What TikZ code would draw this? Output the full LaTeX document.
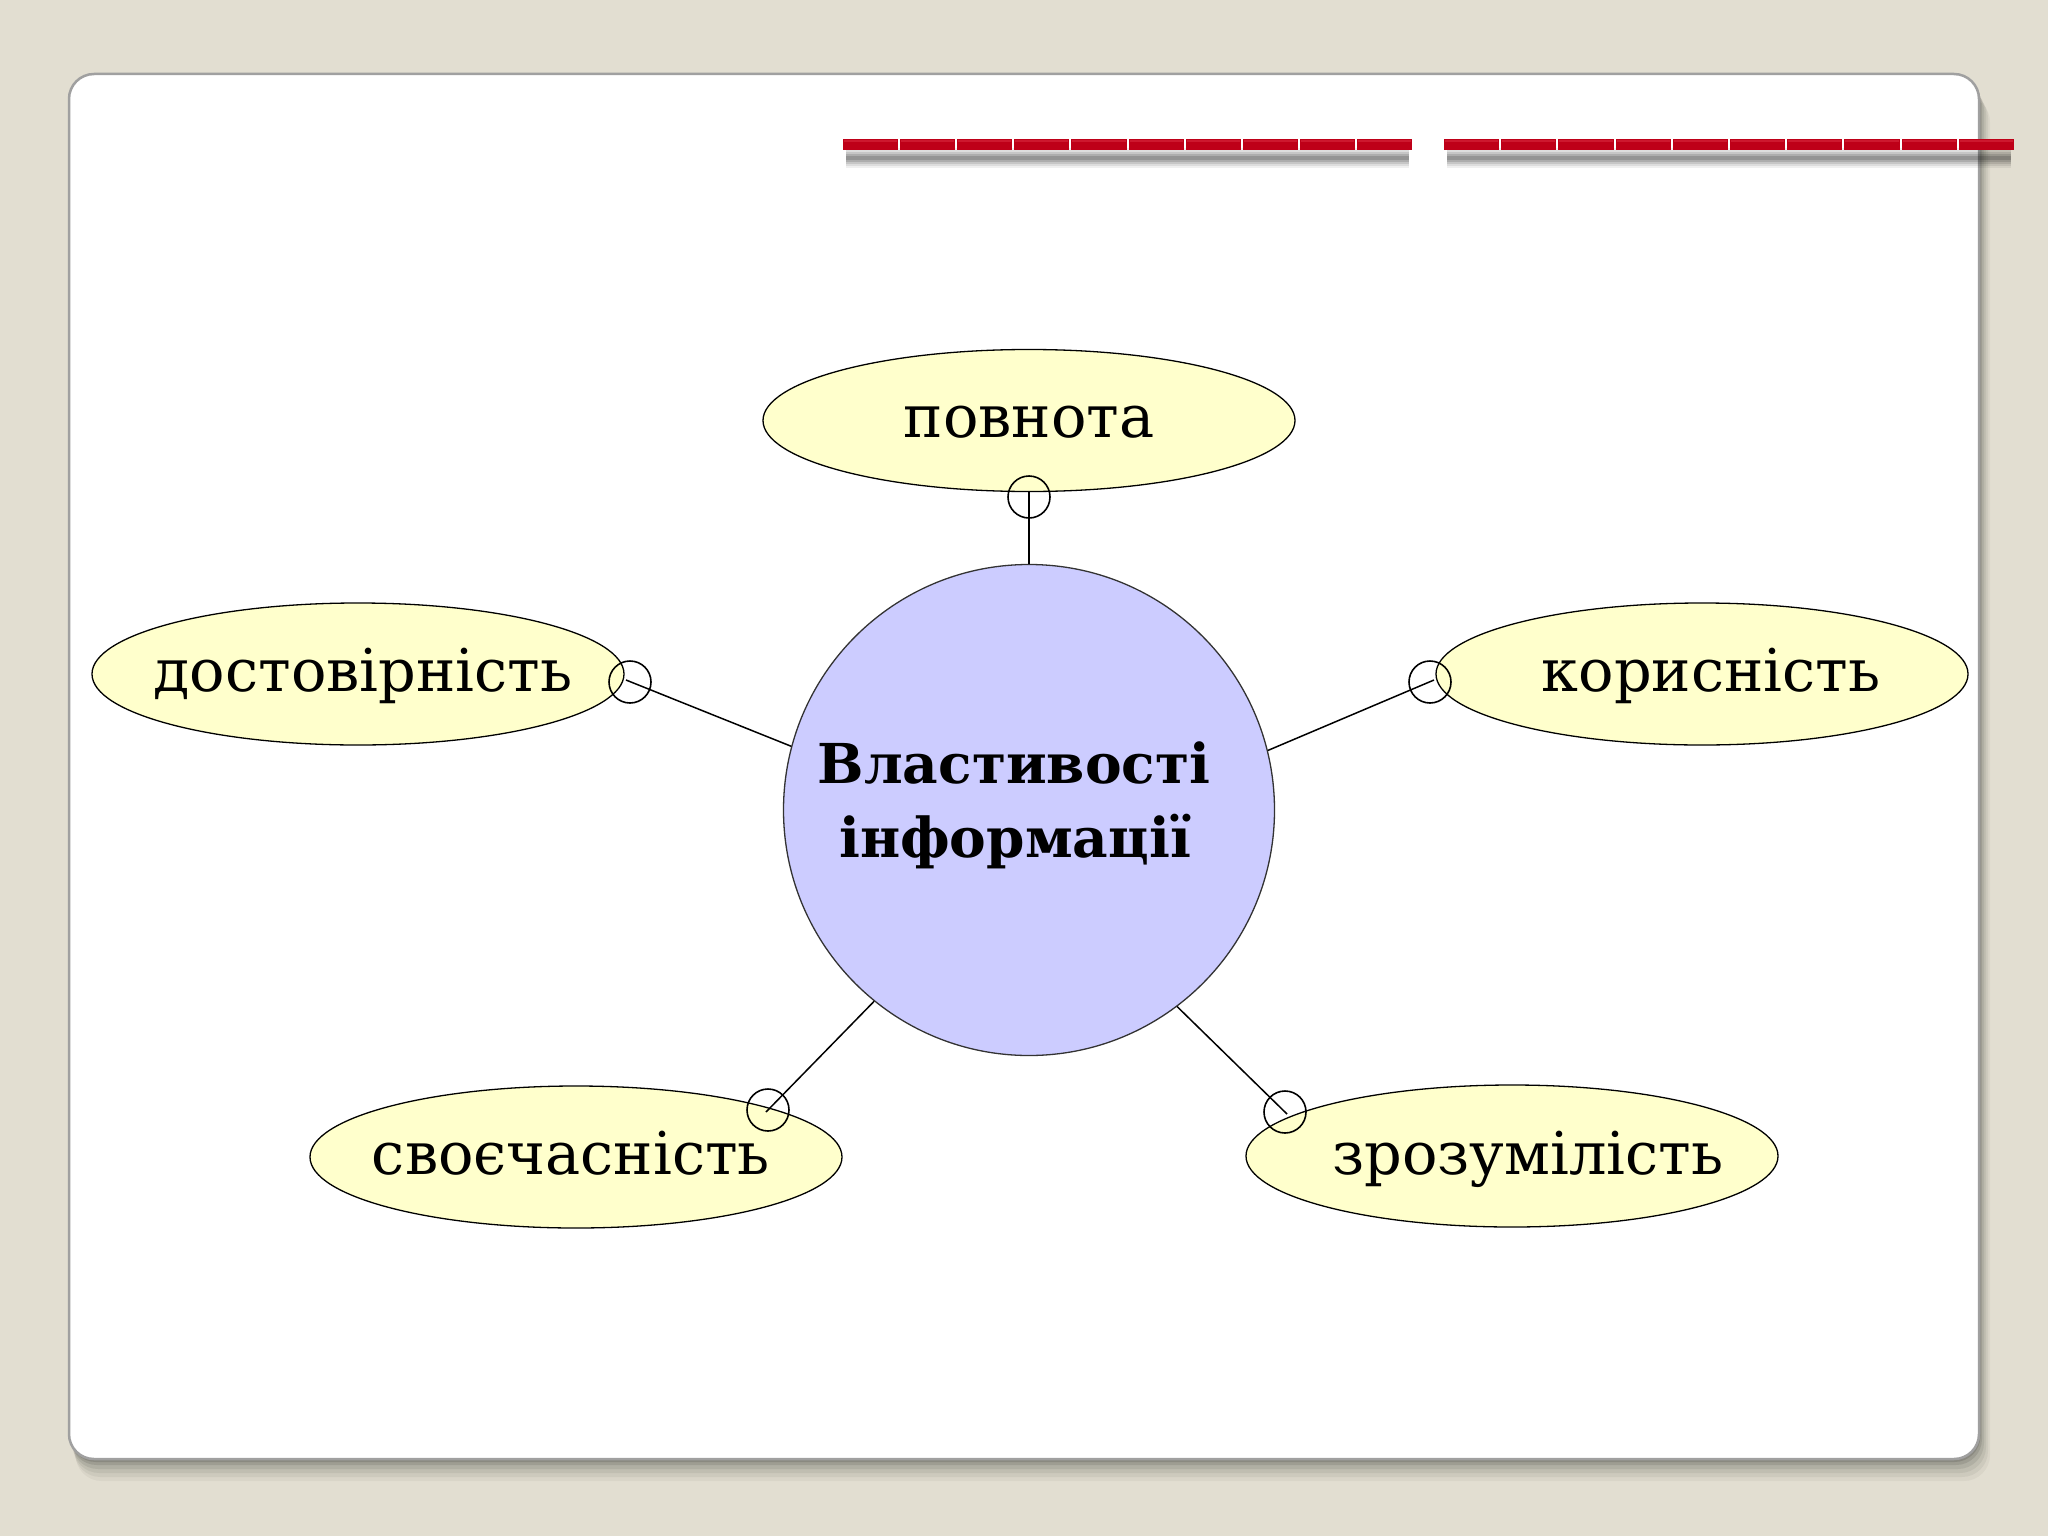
\documentclass[tikz,border=0pt]{standalone}
\usepackage{fontspec}
\setmainfont{DejaVu Serif}
\usetikzlibrary{shapes.geometric}
\definecolor{bgcol}{HTML}{E2DED1}
\definecolor{panelline}{HTML}{A0A0A0}
\definecolor{hubcol}{HTML}{CCCCFF}
\definecolor{leafcol}{HTML}{FFFFCC}
\definecolor{redbar}{HTML}{BE0018}
\definecolor{redhi}{HTML}{D8283E}
\begin{document}
\begin{tikzpicture}[x=1pt,y=-1pt,
  leafbox/.style={ellipse, draw=black, line width=1.3pt, fill=leafcol,
    minimum width=532pt, minimum height=142pt, inner sep=0pt},
  hubbox/.style={circle, draw=black!80, line width=1.3pt, fill=hubcol,
    minimum size=491pt, inner sep=0pt},
  lbl/.style={font=\fontsize{59}{70}\selectfont, inner sep=0pt, anchor=base},
  ttl/.style={font=\bfseries\fontsize{55}{74}\selectfont, inner sep=0pt, anchor=base},
  link/.style={draw=black, line width=1.5pt},
  knob/.style={circle, draw=black, line width=1.6pt, minimum size=42pt, inner sep=0pt},
]
\useasboundingbox (0,0) rectangle (2048,1536);
\fill[bgcol] (0,0) rectangle (2048,1536);
% panel shadow
\foreach \o/\a in {22/0.04,18/0.05,14/0.06,10/0.08,6/0.10,3/0.12}{
  \fill[black, opacity=\a, rounded corners=26pt] (69+\o*0.3,74+\o) rectangle (1979+\o*0.5,1459+\o);
}
% panel
\filldraw[fill=white, draw=panelline, line width=2.5pt, rounded corners=25pt] (69,74) rectangle (1979,1459);
% red bar shadows
\foreach \xa/\xb in {842/1413,1443/2015}{
  \foreach \w/\a in {20/0.06,16/0.08,12/0.10,8/0.12,4/0.14}{
    \draw[black, opacity=\a, line width=\w pt] (\xa+4,158) -- (\xb-4,158);
  }
}
% red bars
\foreach \xa/\sg in {842/57.1,1443/57.2}{
  \foreach \i in {0,...,9}{
    \fill[redbar] (\xa+\i*\sg+1,139.5) rectangle (\xa+\i*\sg+\sg-1,150);
    \fill[redhi, opacity=0.6] (\xa+\i*\sg+2,140.5) rectangle (\xa+\i*\sg+\sg-2,142.5);
  }
}
% ellipses
\node[leafbox] (e1) at (1029,420.5) {};
\node[leafbox] (e2) at (358,674) {};
\node[leafbox] (e3) at (1702,674) {};
\node[leafbox] (e4) at (576,1157) {};
\node[leafbox] (e5) at (1512,1156) {};
\node[lbl] (t1) at (1029,437) {повнота};
\node[lbl] (t2) at (363,691) {достовірність};
\node[lbl] (t3) at (1711,691) {корисність};
\node[lbl] (t4) at (571,1174) {своєчасність};
\node[lbl] (t5) at (1528,1174) {зрозумілість};
% hub
\node[hubbox] (c) at (1029,810) {};
\node[ttl] (h1) at (1014,783) {Властивості};
\node[ttl] (h2) at (1015,857) {інформації};
% connector ends
\coordinate (p1) at (1029,492);
\coordinate (p2) at (626,680);
\coordinate (p3) at (1434,680);
\coordinate (p4) at (766,1112);
\coordinate (p5) at (1287,1114);
\draw[link] (c.90) -- (p1);
\draw[link] (c.165.4) -- (p2);
\draw[link] (c.14.8) -- (p3);
\draw[link] (c.231.4) -- (p4);
\draw[link] (c.307.4) -- (p5);
\node[knob] (k1) at (1029,497) {};
\node[knob] (k2) at (630,682) {};
\node[knob] (k3) at (1430,682) {};
\node[knob] (k4) at (768,1110) {};
\node[knob] (k5) at (1285,1112) {};
\end{tikzpicture}
\end{document}
